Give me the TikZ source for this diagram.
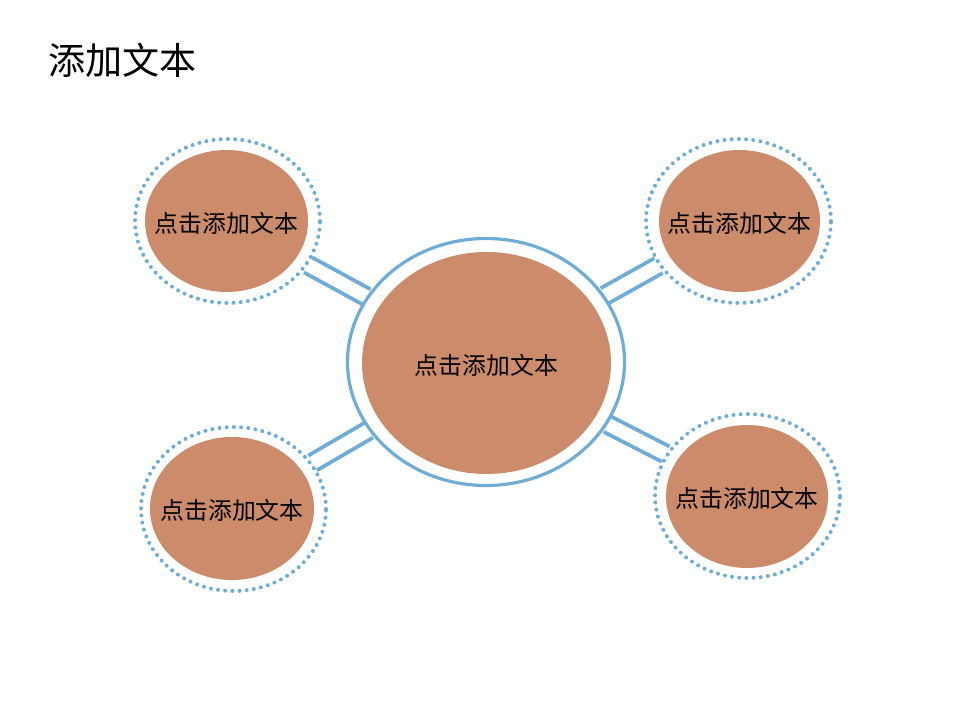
\documentclass[tikz,border=0pt]{standalone}
\usepackage{fontspec}
\setmainfont{Noto Sans CJK SC}
\usetikzlibrary{shapes.geometric, backgrounds}
\definecolor{ringblue}{RGB}{112,173,214}
\definecolor{bubblebrown}{RGB}{204,139,106}

\begin{document}
\begin{tikzpicture}[x=0.75pt, y=-0.75pt,
    hub_ring/.style={
        ellipse, draw=ringblue, line width=2.4pt,
        minimum width=277*0.75pt, minimum height=247*0.75pt, inner sep=0pt
    },
    sat_ring/.style={
        ellipse, draw=ringblue, line width=3pt, line cap=round,
        dash pattern=on 0pt off 5.4pt,
        minimum width=185*0.75pt, minimum height=164*0.75pt, inner sep=0pt
    },
    bubble/.style={ellipse, fill=bubblebrown, inner sep=0pt},
    bubble_text/.style={text=black, inner sep=0pt, yshift=-1.5pt,
                        font=\fontsize{17.9}{20}\selectfont},
    link/.style={draw=ringblue, line width=2.9pt, double=white, double distance=9.8pt},
]
    \useasboundingbox (0,0) rectangle (960,720);

    \node[anchor=west, font=\fontsize{27.8}{32}\selectfont] (title) at (44,60) {添加文本};

    % centre
    \node[hub_ring] (hub) at (486,362) {};
    \node[bubble, minimum width=249*0.75pt, minimum height=222*0.75pt,
          label={[bubble_text]center:点击添加文本}] (hubin) at (486.5,363) {};

    % satellites
    \node[sat_ring] (nw) at (227.5,221) {};
    \node[bubble, minimum width=163*0.75pt, minimum height=142*0.75pt,
          label={[bubble_text]center:点击添加文本}] (nwin) at (226.5,221) {};
    \node[sat_ring] (ne) at (738.5,221) {};
    \node[bubble, minimum width=161*0.75pt, minimum height=142*0.75pt,
          label={[bubble_text]center:点击添加文本}] (nein) at (739.5,221) {};
    \node[sat_ring] (sw) at (233.5,509) {};
    \node[bubble, minimum width=164*0.75pt, minimum height=143*0.75pt,
          label={[bubble_text]center:点击添加文本}] (swin) at (232,508.5) {};
    \node[sat_ring] (se) at (747.5,496) {};
    \node[bubble, minimum width=162*0.75pt, minimum height=143*0.75pt,
          label={[bubble_text]center:点击添加文本}] (sein) at (747,496.5) {};

    \begin{scope}[on background layer]
        \draw[link] (hub) -- (nw);
        \draw[link] (hub) -- (ne);
        \draw[link] (hub) -- (sw);
        \draw[link] (hub) -- (se);
    \end{scope}

\end{tikzpicture}
\end{document}
